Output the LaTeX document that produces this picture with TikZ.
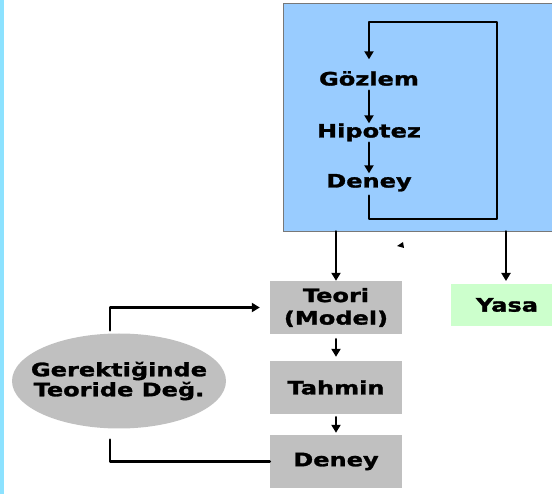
\documentclass[tikz,border=0pt]{standalone}
\usepackage{fontspec}
\setmainfont{DejaVu Sans}[FakeStretch=1.3, BoldFeatures={FakeStretch=1.3, FakeBold=1.5}]
\usepackage{xcolor}
\usepackage{tikz}
\usetikzlibrary{calc,arrows.meta,positioning,shapes.geometric}
\definecolor{labBlue}{RGB}{153,204,255}
\definecolor{labEdge}{RGB}{120,120,120}
\definecolor{boxGray}{RGB}{192,192,192}
\definecolor{lawGreen}{RGB}{204,255,204}
\definecolor{edgeCyan}{RGB}{140,226,255}

\begin{document}
\begin{tikzpicture}[x=1pt,y=-1pt,
  every node/.style={font=\fontsize{18.5}{21.5}\selectfont\bfseries},
  conn/.style={line width=2.6pt, line cap=round, line join=round},
  arr/.style={conn, -{Triangle[width=9pt,length=8pt]}},
  labtxt/.style={inner sep=1pt, text height=13pt, text depth=4pt},
  graybox/.style={fill=boxGray, minimum width=132pt, minimum height=53pt, inner sep=0pt, align=center}]
\useasboundingbox (0,0) rectangle (552,494);
\fill[edgeCyan] (0,0) rectangle (3.5,494);
\node[draw=labEdge, line width=0.8pt, fill=labBlue, minimum width=276pt, minimum height=228pt] (lab) at (421,117) {};
\node[labtxt] (goz) at (369,81) {Gözlem};
\node[labtxt] (hip) at (369,133) {Hipotez};
\node[labtxt] (den1) at (369,183) {Deney};
\draw[arr] (goz.south) -- (hip.north);
\draw[arr] (hip.south) -- (den1.north);
\draw[arr] ([yshift=-3pt]den1.south) |- (497,219) |- (369,22) -- ([yshift=12pt]goz.north);
\node[graybox] (teori) at (336,307.5) {Teori\\[1pt](Model)};
\node[graybox] (tahmin) at (336,387.5) {Tahmin};
\node[graybox] (deney) at (336,461.5) {Deney};
\node[fill=lawGreen, minimum width=112pt, minimum height=42pt] (yasa) at (507,305) {Yasa};
\node[ellipse, fill=boxGray, minimum width=214pt, minimum height=95pt, inner xsep=-25pt, inner ysep=0pt, align=center,
  font=\fontsize{18.5}{20}\selectfont\bfseries] (gerek) at (119,381) {Gerektiğinde\\Teoride Değ.};
\draw[arr] (lab.south -| teori) -- (teori.north);
\draw[arr, shorten >=3pt] (lab.south -| 506,0) -- (506,284);
\draw[arr, shorten <=5pt, shorten >=4pt] (teori) -- (tahmin);
\draw[arr, shorten <=3pt, shorten >=2pt] (tahmin) -- (deney);
\draw[arr, shorten >=10pt] ([xshift=-9pt,yshift=3pt]gerek.north) |- (teori.west);
\draw[conn] ([xshift=-9pt,yshift=-11pt]gerek.south) |- (deney.west);
\fill (397,246) -- (403,242) -- (404,248) -- cycle;
\end{tikzpicture}
\end{document}
